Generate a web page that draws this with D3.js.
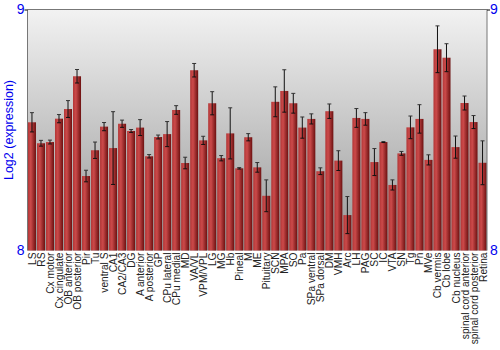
<!DOCTYPE html>
<html>
<head>
<meta charset="utf-8">
<script src="https://cdn.jsdelivr.net/npm/d3@7"></script>
<style>
body{margin:0;background:#fff;}
svg{display:block;font-family:"Liberation Sans",Arial,sans-serif;}
</style>
</head>
<body>
<svg width="500" height="350"></svg>
<script>
var regions=["LS","RS","Cx motor","Cx cingulate","OB anterior","OB posterior","Pir","Tu","ventral S","CA1","CA2/CA3","DG","A anterior","A posterior","GP","CPu lateral","CPu medial","MD","VA/VL","VPM/VPL","LG","MG","Hb","Pineal","M","ME","Pituitary","SCN","MPA","SO","Pa","SPa ventral","SPa dorsal","DM","VMH","Arc","LH","PAG","SC","IC","VTA","SN","Tg","Pn","MVe","Cb vermis","Cb lobe","Cb nucleus","spinal cord anterior","spinal cord posterior","Retina"];
var expression=[8.532,8.445,8.450,8.547,8.587,8.723,8.309,8.416,8.514,8.425,8.526,8.496,8.510,8.391,8.471,8.483,8.583,8.363,8.748,8.457,8.611,8.383,8.486,8.341,8.470,8.345,8.227,8.617,8.662,8.611,8.510,8.546,8.329,8.578,8.373,8.147,8.550,8.546,8.367,8.450,8.272,8.403,8.511,8.546,8.376,8.835,8.800,8.429,8.612,8.533,8.364];
var stdErr=[0.040,0.012,0.008,0.017,0.035,0.028,0.024,0.034,0.017,0.151,0.015,0.006,0.033,0.007,0.008,0.052,0.018,0.024,0.028,0.017,0.048,0.011,0.106,0.003,0.015,0.020,0.066,0.062,0.088,0.041,0.044,0.021,0.014,0.030,0.041,0.077,0.039,0.026,0.056,0.002,0.021,0.008,0.047,0.059,0.021,0.097,0.058,0.046,0.029,0.027,0.091];
var yTicks=[8,9];

var svg=d3.select("svg");
var margin={top:9.5,left:27.5,right:13,bottom:99.5};
var plotWidth=500-margin.left-margin.right;
var plotHeight=350-margin.top-margin.bottom;

var defs=svg.append("defs");
var bg=defs.append("linearGradient").attr("id","bg").attr("x1",0).attr("y1",0).attr("x2",0).attr("y2",1);
bg.append("stop").attr("offset","0%").attr("stop-color","#f2f2f2");
bg.append("stop").attr("offset","100%").attr("stop-color","#979797");
var barGrad=defs.append("linearGradient").attr("id","bar").attr("x1",0).attr("y1",0).attr("x2",1).attr("y2",0);
barGrad.append("stop").attr("offset","0%").attr("stop-color","#b23636");
barGrad.append("stop").attr("offset","35%").attr("stop-color","#cc4a4a");
barGrad.append("stop").attr("offset","100%").attr("stop-color","#6c1010");

var xScale=d3.scaleBand().domain(regions).range([0,plotWidth]).paddingInner(0.11).paddingOuter(0.05);
var yScale=d3.scaleLinear().domain([8,9]).range([plotHeight,0]);

var plot=svg.append("g").attr("id","plot")
  .attr("transform","translate("+margin.left+","+margin.top+")");

plot.append("rect").attr("width",plotWidth).attr("height",plotHeight).attr("fill","url(#bg)");

var data=regions.map(function(r,i){return {name:r,value:expression[i],err:stdErr[i]};});

plot.selectAll("rect.bar").data(data).enter().append("rect")
  .attr("class","bar")
  .attr("x",function(d){return xScale(d.name);})
  .attr("width",xScale.bandwidth())
  .attr("y",function(d){return yScale(d.value);})
  .attr("height",function(d){return plotHeight-yScale(d.value);})
  .attr("fill","url(#bar)");

var err=plot.selectAll("g.err").data(data).enter().append("g").attr("class","err")
  .attr("transform",function(d){return "translate("+(xScale(d.name)+xScale.bandwidth()/2)+",0)";});
err.append("line")
  .attr("y1",function(d){return yScale(d.value+d.err);})
  .attr("y2",function(d){return yScale(d.value-d.err);})
  .attr("stroke","#111").attr("stroke-width",1);
err.append("line").attr("x1",-2).attr("x2",2)
  .attr("y1",function(d){return yScale(d.value+d.err);})
  .attr("y2",function(d){return yScale(d.value+d.err);})
  .attr("stroke","#333").attr("stroke-width",1);
err.append("line").attr("x1",-2).attr("x2",2)
  .attr("y1",function(d){return yScale(d.value-d.err);})
  .attr("y2",function(d){return yScale(d.value-d.err);})
  .attr("stroke","#111").attr("stroke-width",1);

// frame lines
plot.append("line").attr("x1",0).attr("x2",plotWidth).attr("y1",0).attr("y2",0).attr("stroke","#777");
plot.append("line").attr("x1",0).attr("x2",0).attr("y1",0).attr("y2",plotHeight).attr("stroke","#777");
plot.append("line").attr("x1",plotWidth).attr("x2",plotWidth).attr("y1",0).attr("y2",plotHeight).attr("stroke","#777");

var yLeft=plot.append("g").attr("id","y-axis").call(d3.axisLeft(yScale).tickValues(yTicks).tickSize(3).tickFormat(d3.format("d")));
var yRight=plot.append("g").attr("id","y-axis-right").attr("transform","translate("+plotWidth+",0)")
  .call(d3.axisRight(yScale).tickValues(yTicks).tickSize(3).tickFormat(d3.format("d")));
[yLeft,yRight].forEach(function(g){
  g.select(".domain").remove();
  g.selectAll(".tick line").attr("stroke","#000");
  g.selectAll(".tick text").attr("fill","#0000ee").style("font-size","14px").style("font-family","Liberation Sans, Arial, sans-serif");
});
yLeft.selectAll(".tick text").attr("x",-3);
yRight.selectAll(".tick text").attr("x",3);
yLeft.selectAll(".tick").filter(function(d){return d===8;}).select("line").remove();
yRight.selectAll(".tick").filter(function(d){return d===8;}).select("line").remove();

plot.selectAll("text.xlabel").data(regions).enter().append("text")
  .attr("class","xlabel")
  .text(function(d){return d;})
  .attr("text-anchor","end")
  .attr("transform",function(d){return "translate("+(xScale(d)+xScale.bandwidth()/2+4)+","+(plotHeight+2)+")rotate(-90)";})
  .attr("fill","#222")
  .style("font-size","10.2px");

svg.append("text").text("Log2 (expression)")
  .attr("text-anchor","middle")
  .attr("transform","translate(13,"+(margin.top+plotHeight/2)+")rotate(-90)")
  .attr("fill","#0000ee")
  .style("font-size","12.5px");
</script>
</body>
</html>
